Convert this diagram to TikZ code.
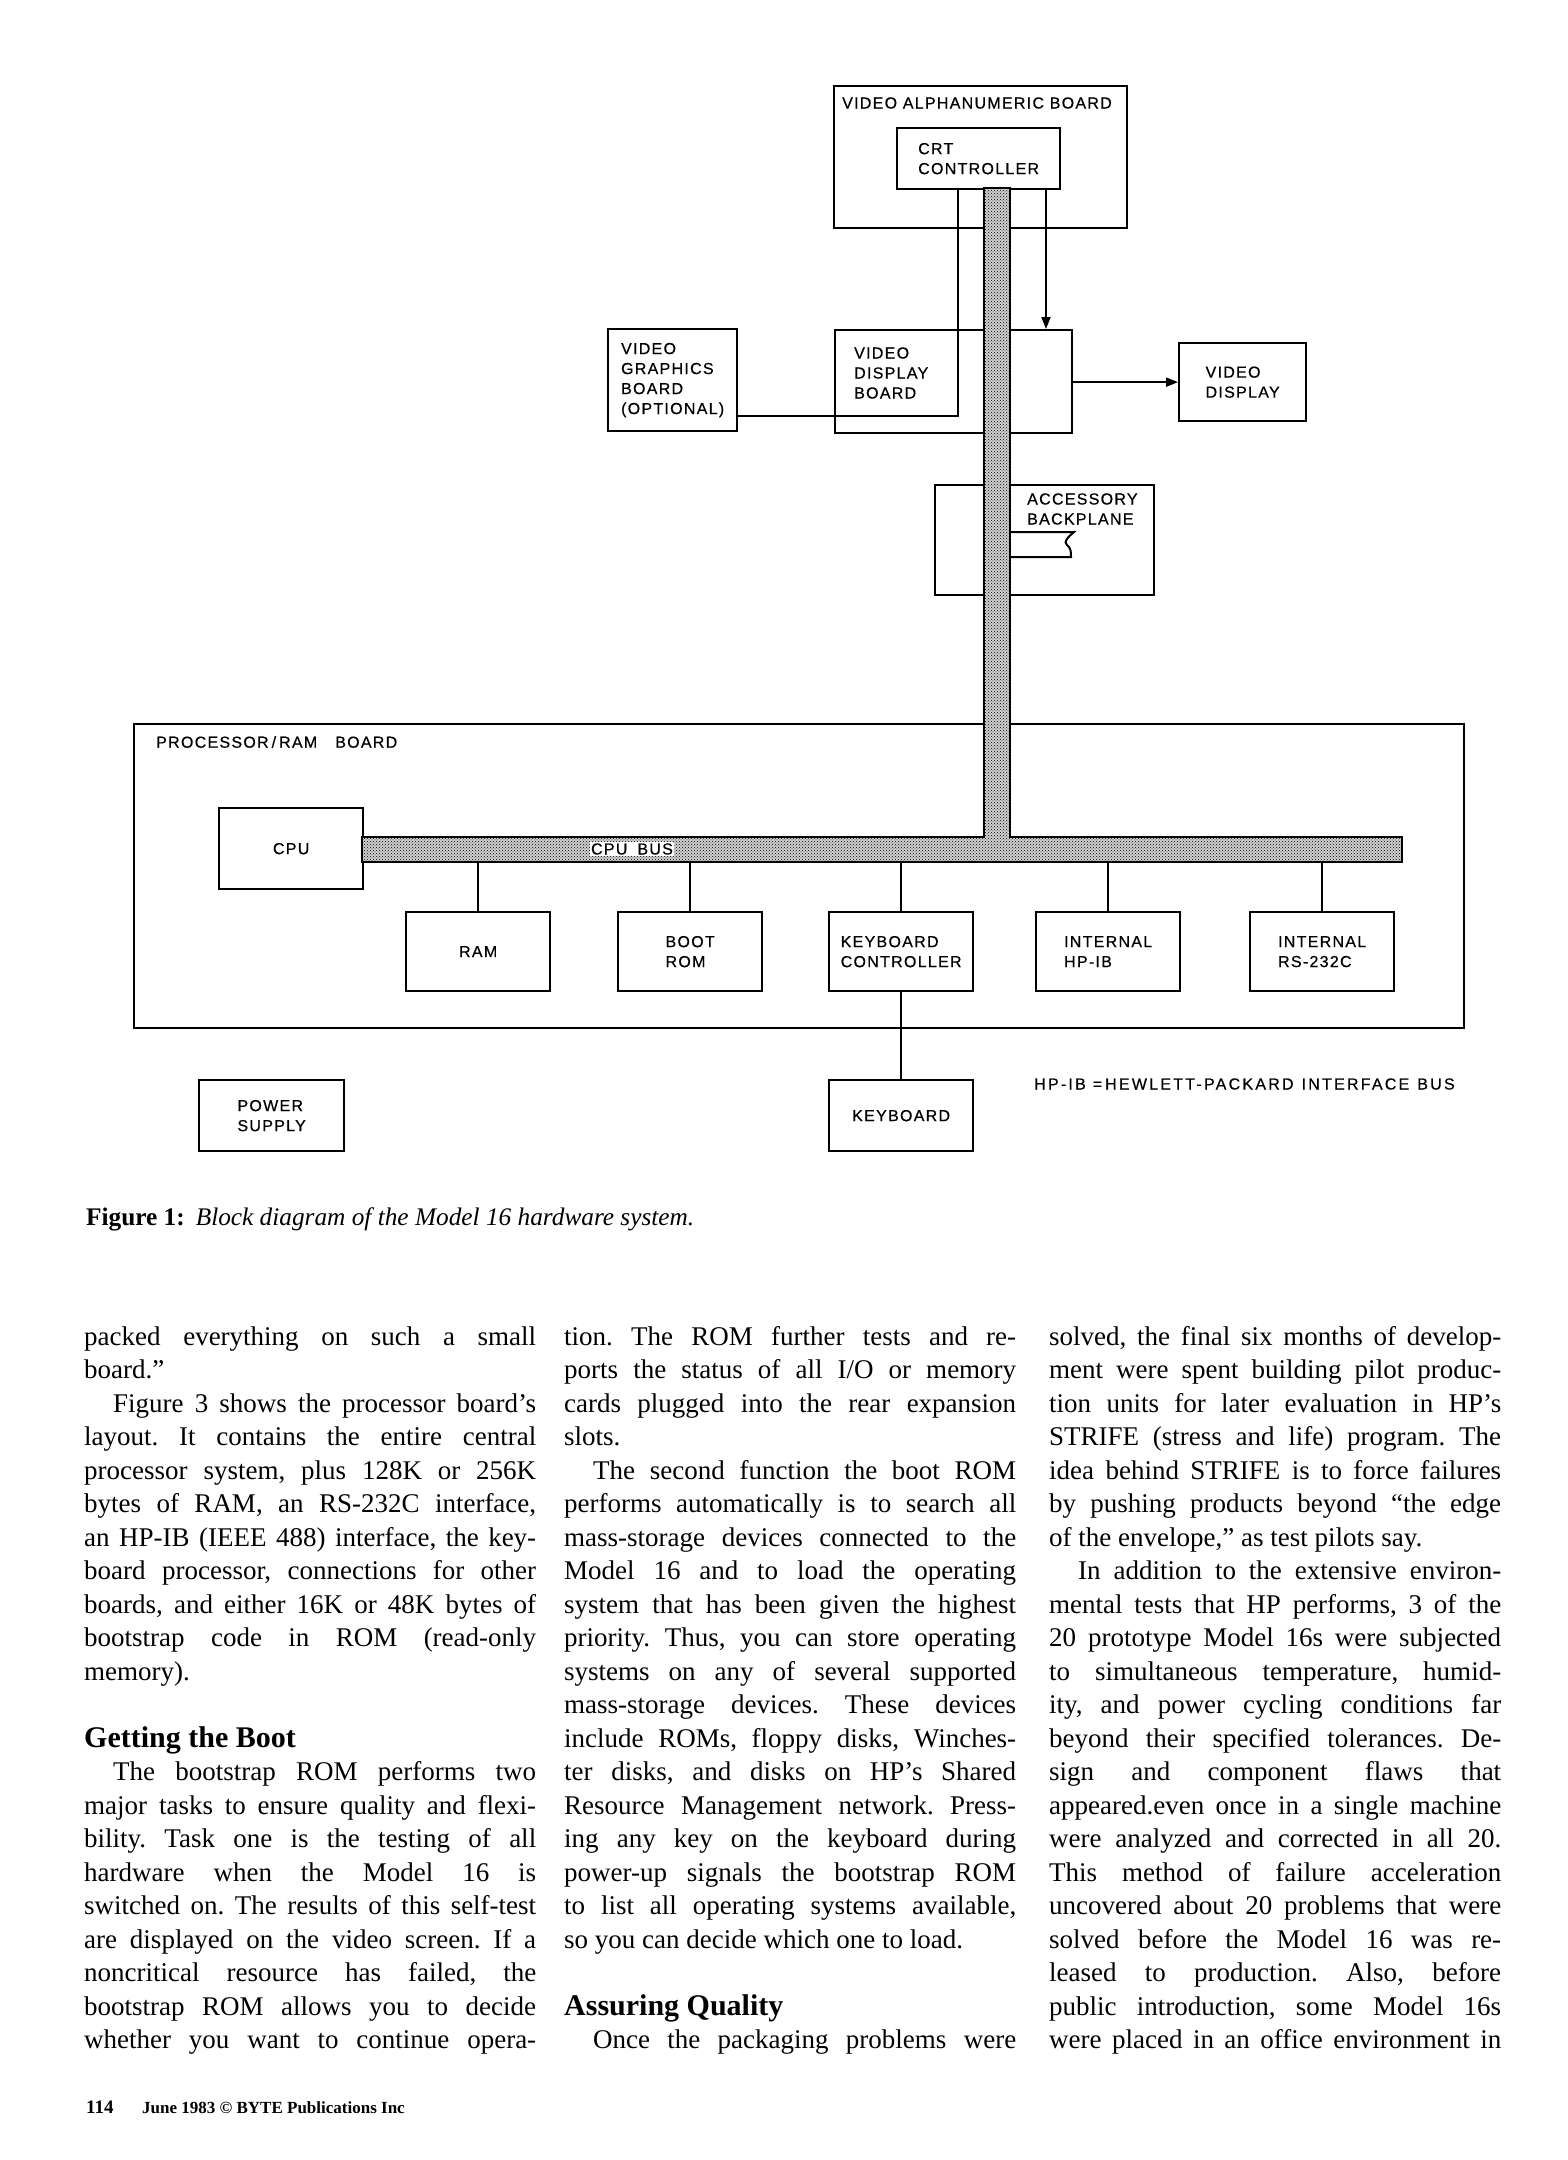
\documentclass[tikz,border=0pt]{standalone}
\usepackage{fontspec}
\setmainfont{Liberation Serif}
\newfontfamily\diagfont{Liberation Sans}[LetterSpace=8,FakeBold=0.5]
\usetikzlibrary{arrows.meta,patterns}
\newcommand{\dfont}{\diagfont\fontsize{16}{20}\selectfont}
\newcommand{\bodyfont}{\fontsize{27}{33.5}\selectfont\frenchspacing}
\newcommand{\jline}[1]{\makebox[452pt][s]{#1}\\}
\newcommand{\iline}[1]{\makebox[452pt][s]{\hspace*{29pt}#1}\\}
\newcommand{\lline}[1]{\makebox[452pt][l]{#1}\\}
\newcommand{\headl}[1]{\makebox[452pt][l]{\fontsize{30}{33.5}\selectfont\textbf{#1}}\\}
\begin{document}
\begin{tikzpicture}[x=1pt,y=-1pt,
  box/.style={draw, line width=2.3pt, inner sep=0pt, anchor=north west, align=left, font=\dfont},
  lbl/.style={inner sep=0pt, anchor=west, align=left, font=\dfont},
  conn/.style={line width=2pt},
  arr/.style={line width=2pt, -{Triangle[length=12pt,width=9pt]}},
  col/.style={inner sep=0pt, anchor=base west, font=\bodyfont}]
\fill[white] (0,0) rectangle (1567,2160);
\useasboundingbox (0,0) rectangle (1567,2160);

% boards and boxes
\node[box, minimum width=293pt, minimum height=142pt] (vab) at (833,85) {};
\node[box, minimum width=163pt, minimum height=61pt] (crt) at (896,127) {CRT\\CONTROLLER};
\node[box, minimum width=129pt, minimum height=102pt] (vgb) at (607,328) {VIDEO\\GRAPHICS\\BOARD\\(OPTIONAL)};
\node[box, minimum width=237pt, minimum height=103pt] (vdb) at (834,329) {};
\node[box, minimum width=127pt, minimum height=78pt] (vd) at (1178,342) {VIDEO\\DISPLAY};
\node[box, minimum width=219pt, minimum height=110pt] (acc) at (934,484) {};
\node[box, minimum width=1330pt, minimum height=304pt] (board) at (133,723) {};
\node[box, minimum width=144pt, minimum height=81pt] (cpu) at (218,807) {CPU};
\node[box, minimum width=144pt, minimum height=79pt] (ram) at (405,911) {RAM};
\node[box, minimum width=144pt, minimum height=79pt] (boot) at (617,911) {BOOT\\ROM};
\node[box, minimum width=144pt, minimum height=79pt] (kbc) at (828,911) {KEYBOARD\\CONTROLLER};
\node[box, minimum width=144pt, minimum height=79pt] (hpib) at (1035,911) {INTERNAL\\HP-IB};
\node[box, minimum width=144pt, minimum height=79pt] (rs) at (1249,911) {INTERNAL\\RS-232C};
\node[box, minimum width=145pt, minimum height=71pt] (psu) at (198,1079) {POWER\\SUPPLY};
\node[box, minimum width=144pt, minimum height=71pt] (kbd) at (828,1079) {KEYBOARD};

% labels
\node[lbl] (vabl) at (842,103) {VIDEO ALPHANUMERIC BOARD};
\node[lbl] (vdbl) at (854,373) {VIDEO\\DISPLAY\\BOARD};
\node[lbl] (accl) at (1027,509) {ACCESSORY\\BACKPLANE};
\node[lbl] (boardl) at (156,742) {PROCESSOR\hspace{3pt}/\hspace{3pt}RAM\hspace{18pt}BOARD};
\node[lbl, font=\dfont\addfontfeature{LetterSpace=14}] (note) at (1034,1084) {HP-IB\hspace{7pt}=\hspace{3pt}HEWLETT-PACKARD\hspace{8pt}INTERFACE\hspace{8pt}BUS};

% connectors
\coordinate (bend) at (958,416);
\coordinate (arx) at (1046,0);
\coordinate (busb) at (0,862);
\draw[conn] (crt.south -| bend) -- (bend) -- (vgb.east |- bend);
\draw[arr] (crt.south -| arx) -- (vdb.north -| arx);
\draw[arr] (vdb.east |- vd.west) -- (vd.west);
\draw[conn] (ram.north) -- (ram.north |- busb);
\draw[conn] (boot.north) -- (boot.north |- busb);
\draw[conn] (kbc.north) -- (kbc.north |- busb);
\draw[conn] (hpib.north) -- (hpib.north |- busb);
\draw[conn] (rs.north) -- (rs.north |- busb);
\draw[conn] (kbc.south) -- (kbd.north);
% slot in accessory backplane
\draw[line width=2pt] (1000,532) -- (1074,532) .. controls (1068,537) and (1063,542) .. (1067,545) .. controls (1071,548) and (1071,552) .. (1071,557) -- (1000,557);

% bus
\draw[line width=2pt, preaction={fill=black!18}, pattern=crosshatch dots, pattern color=black]
  (984,188) -- (984,837) -- (362,837) -- (362,862) -- (1402,862) -- (1402,837) -- (1010,837) -- (1010,188) -- cycle;
\node[fill=white, inner sep=1.5pt, font=\dfont] (busl) at (632,849) {CPU\hspace{10pt}BUS};

% caption
\node[inner sep=0pt, anchor=base west] (cap) at (86,1225) {\fontsize{25.3}{30}\selectfont\textbf{Figure 1:}\hspace{11pt}\textit{Block diagram of the Model 16 hardware system.}};

% body columns
\node[col] (c1) at (84,1345) {\parbox[t]{452pt}{\bodyfont
\jline{packed everything on such a small}
\lline{board.”}
\iline{Figure 3 shows the processor board’s}
\jline{layout. It contains the entire central}
\jline{processor system, plus 128K or 256K}
\jline{bytes of RAM, an RS-232C interface,}
\jline{an HP-IB (IEEE 488) interface, the key-}
\jline{board processor, connections for other}
\jline{boards, and either 16K or 48K bytes of}
\jline{bootstrap code in ROM (read-only}
\lline{memory).}
\lline{}
\headl{Getting the Boot}
\iline{The bootstrap ROM performs two}
\jline{major tasks to ensure quality and flexi-}
\jline{bility. Task one is the testing of all}
\jline{hardware when the Model 16 is}
\jline{switched on. The results of this self-test}
\jline{are displayed on the video screen. If a}
\jline{noncritical resource has failed, the}
\jline{bootstrap ROM allows you to decide}
\makebox[452pt][s]{whether you want to continue opera-}}};

\node[col] (c2) at (564,1345) {\parbox[t]{452pt}{\bodyfont
\jline{tion. The ROM further tests and re-}
\jline{ports the status of all I/O or memory}
\jline{cards plugged into the rear expansion}
\lline{slots.}
\iline{The second function the boot ROM}
\jline{performs automatically is to search all}
\jline{mass-storage devices connected to the}
\jline{Model 16 and to load the operating}
\jline{system that has been given the highest}
\jline{priority. Thus, you can store operating}
\jline{systems on any of several supported}
\jline{mass-storage devices. These devices}
\jline{include ROMs, floppy disks, Winches-}
\jline{ter disks, and disks on HP’s Shared}
\jline{Resource Management network. Press-}
\jline{ing any key on the keyboard during}
\jline{power-up signals the bootstrap ROM}
\jline{to list all operating systems available,}
\lline{so you can decide which one to load.}
\lline{}
\headl{Assuring Quality}
\makebox[452pt][s]{\hspace*{29pt}Once the packaging problems were}}};

\node[col] (c3) at (1049,1345) {\parbox[t]{452pt}{\bodyfont
\jline{solved, the final six months of develop-}
\jline{ment were spent building pilot produc-}
\jline{tion units for later evaluation in HP’s}
\jline{STRIFE (stress and life) program. The}
\jline{idea behind STRIFE is to force failures}
\jline{by pushing products beyond “the edge}
\lline{of the envelope,” as test pilots say.}
\iline{In addition to the extensive environ-}
\jline{mental tests that HP performs, 3 of the}
\jline{20 prototype Model 16s were subjected}
\jline{to simultaneous temperature, humid-}
\jline{ity, and power cycling conditions far}
\jline{beyond their specified tolerances. De-}
\jline{sign and component flaws that}
\jline{appeared.even once in a single machine}
\jline{were analyzed and corrected in all 20.}
\jline{This method of failure acceleration}
\jline{uncovered about 20 problems that were}
\jline{solved before the Model 16 was re-}
\jline{leased to production. Also, before}
\jline{public introduction, some Model 16s}
\makebox[452pt][s]{were placed in an office environment in}}};

% footer
\node[inner sep=0pt, anchor=base west] (pg) at (86,2113) {\fontsize{19}{24}\selectfont\textbf{114}};
\node[inner sep=0pt, anchor=base west] (foot) at (142,2113) {\fontsize{17}{20}\selectfont\textbf{June 1983 © BYTE Publications Inc}};
\end{tikzpicture}
\end{document}
